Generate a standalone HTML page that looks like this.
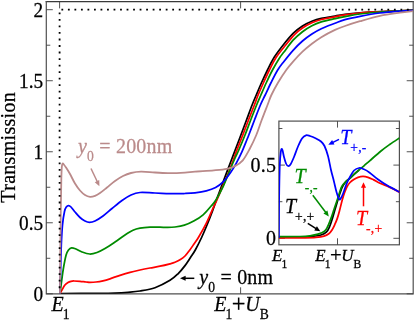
<!DOCTYPE html>
<html><head><meta charset="utf-8"><title>Transmission</title>
<style>
html,body{margin:0;padding:0;background:#fff;}
body{width:415px;height:320px;overflow:hidden;font-family:"Liberation Serif",serif;color:#000;}
svg{display:block;will-change:transform;filter:blur(0.35px);}
</style></head><body>
<svg width="415" height="320" viewBox="0 0 415 320">
<rect x="0" y="0" width="415" height="320" fill="#fff"/>
<path d="M46.30 1.60 H413.20" fill="none" stroke="#3a3a3a" stroke-width="1.3" stroke-linecap="square"/>
<path d="M46.30 1.60 V293.80 M413.20 1.60 V293.80 M46.30 293.80 H413.20" fill="none" stroke="#505050" stroke-width="1.2" stroke-linecap="square"/>
<g fill="none" stroke="#404040" stroke-width="0.9">
<path d="M46.3 293.80 h6.5 M413.2 293.80 h-6.5"/>
<path d="M46.3 258.29 h4.0 M413.2 258.29 h-4.0"/>
<path d="M46.3 222.78 h6.5 M413.2 222.78 h-6.5"/>
<path d="M46.3 187.26 h4.0 M413.2 187.26 h-4.0"/>
<path d="M46.3 151.75 h6.5 M413.2 151.75 h-6.5"/>
<path d="M46.3 116.24 h4.0 M413.2 116.24 h-4.0"/>
<path d="M46.3 80.72 h6.5 M413.2 80.72 h-6.5"/>
<path d="M46.3 45.21 h4.0 M413.2 45.21 h-4.0"/>
<path d="M46.3 9.70 h6.5 M413.2 9.70 h-6.5"/>
<path d="M59.60 293.8 v-6.5 M59.60 1.6 v6.8"/>
<path d="M240.60 293.8 v-6.5 M240.60 1.6 v6.8"/>
</g>
<defs><clipPath id="cm"><rect x="46.3" y="1.6" width="366.9" height="292.2"/></clipPath><clipPath id="ci"><rect x="278.9" y="121.1" width="120.5" height="123.7"/></clipPath></defs>
<g fill="none" stroke-width="1.75" stroke-linejoin="round" clip-path="url(#cm)">
<path d="M60.00 293.50 C66.67 293.48 90.83 293.47 100.00 293.40 C109.17 293.33 110.33 293.28 115.00 293.10 C119.67 292.92 123.83 292.65 128.00 292.30 C132.17 291.95 135.50 291.77 140.00 291.00 C144.50 290.23 150.00 289.48 155.00 287.70 C160.00 285.92 166.17 282.62 170.00 280.30 C173.83 277.98 175.50 276.25 178.00 273.80 C180.50 271.35 182.92 268.32 185.00 265.60 C187.08 262.88 188.78 260.10 190.50 257.50 C192.22 254.90 193.45 253.33 195.30 250.00 C197.15 246.67 199.65 241.67 201.60 237.50 C203.55 233.33 205.18 229.43 207.00 225.00 C208.82 220.57 210.93 215.07 212.50 210.90 C214.07 206.73 214.45 205.32 216.40 200.00 C218.35 194.68 221.70 185.67 224.20 179.00 C226.70 172.33 229.57 164.83 231.40 160.00 C233.23 155.17 233.62 154.17 235.20 150.00 C236.78 145.83 239.02 140.00 240.90 135.00 C242.78 130.00 244.63 125.00 246.50 120.00 C248.37 115.00 250.47 109.17 252.10 105.00 C253.72 100.83 254.67 98.75 256.25 95.00 C257.83 91.25 259.73 86.67 261.60 82.50 C263.48 78.33 265.40 74.20 267.50 70.00 C269.60 65.80 271.58 61.47 274.20 57.30 C276.82 53.13 280.05 48.98 283.20 45.00 C286.35 41.02 289.88 36.57 293.10 33.40 C296.32 30.23 299.37 28.02 302.50 26.00 C305.63 23.98 308.77 22.57 311.90 21.30 C315.03 20.03 317.45 19.27 321.30 18.40 C325.15 17.53 331.05 16.77 335.00 16.10 C338.95 15.43 340.83 14.93 345.00 14.40 C349.17 13.87 354.17 13.37 360.00 12.90 C365.83 12.43 373.33 11.95 380.00 11.60 C386.67 11.25 394.50 11.02 400.00 10.80 C405.50 10.58 410.83 10.38 413.00 10.30" stroke="#000000"/>
<path d="M60.00 293.50 C60.33 292.92 61.22 291.37 62.00 290.00 C62.78 288.63 63.70 286.55 64.70 285.30 C65.70 284.05 66.95 283.17 68.00 282.50 C69.05 281.83 70.00 281.55 71.00 281.30 C72.00 281.05 72.50 280.98 74.00 281.00 C75.50 281.02 78.00 281.23 80.00 281.40 C82.00 281.57 84.33 281.85 86.00 282.00 C87.67 282.15 88.33 282.30 90.00 282.30 C91.67 282.30 93.83 282.25 96.00 282.00 C98.17 281.75 100.67 281.33 103.00 280.80 C105.33 280.27 107.17 279.72 110.00 278.80 C112.83 277.88 116.67 276.38 120.00 275.30 C123.33 274.22 126.67 273.18 130.00 272.30 C133.33 271.42 136.67 270.72 140.00 270.00 C143.33 269.28 146.67 268.63 150.00 268.00 C153.33 267.37 156.67 266.90 160.00 266.20 C163.33 265.50 167.50 264.45 170.00 263.80 C172.50 263.15 173.33 262.97 175.00 262.30 C176.67 261.63 178.33 260.85 180.00 259.80 C181.67 258.75 183.37 257.63 185.00 256.00 C186.63 254.37 188.30 252.00 189.80 250.00 C191.30 248.00 192.57 246.08 194.00 244.00 C195.43 241.92 196.36 240.93 198.40 237.50 C200.44 234.07 203.90 228.08 206.25 223.40 C208.60 218.72 210.72 213.30 212.50 209.40 C214.28 205.50 215.57 202.98 216.90 200.00 C218.23 197.02 218.68 195.77 220.50 191.50 C222.32 187.23 225.63 179.75 227.80 174.40 C229.97 169.05 231.98 163.47 233.50 159.40 C235.02 155.33 235.35 154.07 236.90 150.00 C238.45 145.93 240.87 140.00 242.80 135.00 C244.73 130.00 246.57 125.00 248.50 120.00 C250.43 115.00 252.80 109.17 254.40 105.00 C256.00 100.83 256.57 98.75 258.10 95.00 C259.63 91.25 261.72 86.67 263.60 82.50 C265.48 78.33 267.30 74.20 269.40 70.00 C271.50 65.80 273.55 61.38 276.20 57.30 C278.85 53.22 282.17 49.35 285.30 45.50 C288.43 41.65 292.13 37.12 295.00 34.20 C297.87 31.28 299.68 29.90 302.50 28.00 C305.32 26.10 308.77 24.22 311.90 22.80 C315.03 21.38 317.45 20.50 321.30 19.50 C325.15 18.50 331.05 17.57 335.00 16.80 C338.95 16.03 340.83 15.53 345.00 14.90 C349.17 14.27 354.17 13.52 360.00 13.00 C365.83 12.48 373.33 12.15 380.00 11.80 C386.67 11.45 394.50 11.15 400.00 10.90 C405.50 10.65 410.83 10.40 413.00 10.30" stroke="#ff0000"/>
<path d="M60.00 293.50 C60.25 291.58 60.95 286.08 61.50 282.00 C62.05 277.92 62.53 273.50 63.30 269.00 C64.07 264.50 65.23 258.17 66.10 255.00 C66.97 251.83 67.58 251.20 68.50 250.00 C69.42 248.80 70.35 247.97 71.60 247.80 C72.85 247.63 74.27 248.30 76.00 249.00 C77.73 249.70 79.71 251.17 82.00 252.00 C84.29 252.83 87.25 253.92 89.75 254.00 C92.25 254.08 94.46 253.42 97.00 252.50 C99.54 251.58 102.00 250.25 105.00 248.50 C108.00 246.75 111.67 244.25 115.00 242.00 C118.33 239.75 122.00 236.95 125.00 235.00 C128.00 233.05 130.50 231.43 133.00 230.30 C135.50 229.17 137.17 228.72 140.00 228.20 C142.83 227.68 146.67 227.37 150.00 227.20 C153.33 227.03 157.17 227.17 160.00 227.20 C162.83 227.23 164.50 227.43 167.00 227.40 C169.50 227.37 172.10 227.37 175.00 227.00 C177.90 226.63 181.28 226.18 184.40 225.20 C187.53 224.22 190.63 222.83 193.75 221.10 C196.87 219.37 200.24 217.28 203.10 214.80 C205.96 212.33 208.77 208.72 210.90 206.25 C213.03 203.78 213.87 203.28 215.90 200.00 C217.93 196.72 220.80 191.50 223.10 186.60 C225.40 181.70 227.67 175.45 229.70 170.60 C231.73 165.75 233.78 160.93 235.30 157.50 C236.82 154.07 237.18 153.75 238.80 150.00 C240.42 146.25 243.02 140.00 245.00 135.00 C246.98 130.00 248.77 125.00 250.70 120.00 C252.63 115.00 254.90 109.17 256.60 105.00 C258.30 100.83 259.27 98.75 260.90 95.00 C262.53 91.25 264.47 86.67 266.40 82.50 C268.33 78.33 270.27 74.17 272.50 70.00 C274.73 65.83 277.93 60.45 279.80 57.50 C281.68 54.55 281.53 55.18 283.75 52.30 C285.97 49.42 289.98 43.63 293.10 40.20 C296.23 36.77 299.37 34.12 302.50 31.70 C305.63 29.28 308.77 27.33 311.90 25.70 C315.03 24.07 317.45 23.07 321.30 21.90 C325.15 20.73 331.05 19.58 335.00 18.70 C338.95 17.82 340.83 17.38 345.00 16.60 C349.17 15.82 354.17 14.77 360.00 14.00 C365.83 13.23 373.33 12.52 380.00 12.00 C386.67 11.48 394.50 11.18 400.00 10.90 C405.50 10.62 410.83 10.40 413.00 10.30" stroke="#008b00"/>
<path d="M60.00 293.50 C60.10 289.58 60.38 278.08 60.60 270.00 C60.82 261.92 60.98 252.50 61.30 245.00 C61.62 237.50 61.97 230.58 62.50 225.00 C63.03 219.42 63.83 214.53 64.50 211.50 C65.17 208.47 65.83 207.78 66.50 206.80 C67.17 205.82 67.75 205.57 68.50 205.60 C69.25 205.63 69.92 205.93 71.00 207.00 C72.08 208.07 73.50 210.25 75.00 212.00 C76.50 213.75 78.33 216.00 80.00 217.50 C81.67 219.00 83.42 220.20 85.00 221.00 C86.58 221.80 87.83 222.30 89.50 222.30 C91.17 222.30 92.75 222.05 95.00 221.00 C97.25 219.95 100.17 218.08 103.00 216.00 C105.83 213.92 108.83 211.08 112.00 208.50 C115.17 205.92 118.83 202.75 122.00 200.50 C125.17 198.25 128.00 196.33 131.00 195.00 C134.00 193.67 136.00 192.83 140.00 192.50 C144.00 192.17 149.17 192.80 155.00 193.00 C160.83 193.20 170.00 193.62 175.00 193.70 C180.00 193.78 181.67 193.65 185.00 193.50 C188.33 193.35 191.45 193.23 195.00 192.80 C198.55 192.37 202.87 191.78 206.30 190.90 C209.73 190.02 212.80 189.00 215.60 187.50 C218.40 186.00 220.60 184.40 223.10 181.90 C225.60 179.40 228.40 175.63 230.60 172.50 C232.80 169.37 234.42 166.53 236.30 163.10 C238.18 159.67 240.15 155.75 241.90 151.90 C243.65 148.05 245.65 142.82 246.80 140.00 C247.95 137.18 247.52 138.33 248.80 135.00 C250.08 131.67 252.57 125.00 254.50 120.00 C256.43 115.00 258.62 109.17 260.40 105.00 C262.18 100.83 263.42 98.75 265.20 95.00 C266.98 91.25 269.02 86.67 271.10 82.50 C273.18 78.33 275.59 73.47 277.70 70.00 C279.81 66.53 281.18 64.98 283.75 61.70 C286.32 58.42 289.98 53.75 293.10 50.30 C296.23 46.85 299.37 43.72 302.50 41.00 C305.63 38.28 308.77 36.05 311.90 34.00 C315.03 31.95 317.45 30.48 321.30 28.70 C325.15 26.92 331.05 24.82 335.00 23.30 C338.95 21.78 340.83 20.77 345.00 19.60 C349.17 18.43 354.17 17.40 360.00 16.30 C365.83 15.20 373.33 13.87 380.00 13.00 C386.67 12.13 394.50 11.53 400.00 11.10 C405.50 10.67 410.83 10.52 413.00 10.40" stroke="#0000ff"/>
<path d="M60.00 293.50 C60.05 286.25 60.17 263.92 60.30 250.00 C60.43 236.08 60.63 221.67 60.80 210.00 C60.97 198.33 61.13 187.17 61.30 180.00 C61.47 172.83 61.58 169.75 61.80 167.00 C62.02 164.25 62.27 163.92 62.60 163.50 C62.93 163.08 63.23 163.83 63.80 164.50 C64.37 165.17 64.97 165.92 66.00 167.50 C67.03 169.08 68.50 171.33 70.00 174.00 C71.50 176.67 73.33 180.75 75.00 183.50 C76.67 186.25 78.33 188.58 80.00 190.50 C81.67 192.42 83.33 193.95 85.00 195.00 C86.67 196.05 88.33 196.67 90.00 196.80 C91.67 196.93 93.33 196.43 95.00 195.80 C96.67 195.17 98.00 194.38 100.00 193.00 C102.00 191.62 104.50 189.50 107.00 187.50 C109.50 185.50 112.33 182.92 115.00 181.00 C117.67 179.08 120.33 177.33 123.00 176.00 C125.67 174.67 128.00 173.72 131.00 173.00 C134.00 172.28 137.00 171.78 141.00 171.70 C145.00 171.62 150.17 172.25 155.00 172.50 C159.83 172.75 165.00 173.18 170.00 173.20 C175.00 173.22 180.83 172.87 185.00 172.60 C189.17 172.33 190.20 171.98 195.00 171.60 C199.80 171.22 208.48 170.77 213.80 170.30 C219.12 169.83 223.32 169.53 226.90 168.80 C230.48 168.07 232.65 167.32 235.30 165.90 C237.95 164.48 240.45 163.03 242.80 160.30 C245.15 157.57 247.15 153.72 249.40 149.50 C251.65 145.28 254.25 139.92 256.30 135.00 C258.35 130.08 259.83 125.00 261.70 120.00 C263.57 115.00 265.88 109.17 267.50 105.00 C269.12 100.83 269.63 98.75 271.40 95.00 C273.17 91.25 275.62 86.67 278.10 82.50 C280.58 78.33 283.75 73.48 286.25 70.00 C288.75 66.52 290.39 64.65 293.10 61.60 C295.81 58.55 299.37 54.67 302.50 51.70 C305.63 48.73 308.77 46.22 311.90 43.80 C315.03 41.38 317.45 39.52 321.30 37.20 C325.15 34.88 331.05 31.77 335.00 29.90 C338.95 28.03 340.83 27.45 345.00 26.00 C349.17 24.55 354.17 22.90 360.00 21.20 C365.83 19.50 373.33 17.22 380.00 15.80 C386.67 14.38 394.50 13.47 400.00 12.70 C405.50 11.93 410.83 11.45 413.00 11.20" stroke="#ba8a8a" stroke-width="1.80"/>
</g>
<g fill="none" stroke="#000" stroke-width="1.8" stroke-dasharray="1.8 4.72">
<path d="M59.6 12.5 V292"/>
<path d="M61.4 9.7 H412"/>
</g>
<rect x="278.9" y="121.1" width="120.5" height="123.7" fill="#fff" stroke="#505050" stroke-width="1.2"/>
<g fill="none" stroke="#404040" stroke-width="0.9">
<path d="M278.9 238.30 h6.0 M399.4 238.30 h-6.0"/>
<path d="M278.9 201.70 h3.5 M399.4 201.70 h-3.5"/>
<path d="M278.9 165.10 h6.0 M399.4 165.10 h-6.0"/>
<path d="M278.9 128.50 h3.5 M399.4 128.50 h-3.5"/>
<path d="M337.5 244.8 v-6.5 M337.5 121.1 v6.5"/>
</g>
<g fill="none" stroke-width="1.75" stroke-linejoin="round" clip-path="url(#ci)">
<path d="M278.50 237.20 C282.08 237.18 294.42 237.22 300.00 237.10 C305.58 236.98 308.50 236.85 312.00 236.50 C315.50 236.15 318.62 235.72 321.00 235.00 C323.38 234.28 324.92 233.48 326.30 232.20 C327.68 230.92 328.28 229.60 329.30 227.30 C330.32 225.00 331.45 221.37 332.40 218.40 C333.35 215.43 334.08 212.60 335.00 209.50 C335.92 206.40 337.03 202.63 337.90 199.80 C338.77 196.97 339.45 194.67 340.20 192.50 C340.95 190.33 341.48 188.55 342.40 186.80 C343.32 185.05 344.47 183.40 345.70 182.00 C346.93 180.60 348.42 179.67 349.80 178.40 C351.18 177.13 352.47 175.78 354.00 174.40 C355.53 173.02 358.17 170.82 359.00 170.10" stroke="#000000"/>
<path d="M278.50 237.90 C282.92 237.88 298.75 237.88 305.00 237.80 C311.25 237.72 312.83 237.67 316.00 237.40 C319.17 237.13 321.87 236.80 324.00 236.20 C326.13 235.60 327.47 234.83 328.80 233.80 C330.13 232.77 331.00 231.55 332.00 230.00 C333.00 228.45 333.92 226.43 334.80 224.50 C335.68 222.57 336.48 220.82 337.30 218.40 C338.12 215.98 338.87 213.10 339.70 210.00 C340.53 206.90 341.48 202.72 342.30 199.80 C343.12 196.88 343.80 194.72 344.60 192.50 C345.40 190.28 346.20 188.17 347.10 186.50 C348.00 184.83 348.88 183.67 350.00 182.50 C351.12 181.33 352.47 180.37 353.80 179.50 C355.13 178.63 356.47 177.82 358.00 177.30 C359.53 176.78 361.33 176.40 363.00 176.40 C364.67 176.40 366.22 176.72 368.00 177.30 C369.78 177.88 371.70 178.92 373.70 179.90 C375.70 180.88 377.72 182.17 380.00 183.20 C382.28 184.23 384.10 184.58 387.40 186.10 C390.70 187.62 397.73 191.27 399.80 192.30" stroke="#ff0000"/>
<path d="M278.50 236.60 C282.08 236.58 294.75 236.63 300.00 236.50 C305.25 236.37 307.00 236.18 310.00 235.80 C313.00 235.42 315.58 234.97 318.00 234.20 C320.42 233.43 322.88 232.48 324.50 231.20 C326.12 229.92 326.62 228.63 327.70 226.50 C328.78 224.37 329.95 221.23 331.00 218.40 C332.05 215.57 332.95 212.60 334.00 209.50 C335.05 206.40 336.37 202.63 337.30 199.80 C338.23 196.97 338.85 194.72 339.60 192.50 C340.35 190.28 340.82 188.28 341.80 186.50 C342.78 184.72 344.17 183.17 345.50 181.80 C346.83 180.43 348.38 179.55 349.80 178.30 C351.22 177.05 352.47 175.68 354.00 174.30 C355.53 172.92 357.33 171.42 359.00 170.00 C360.67 168.58 362.22 167.33 364.00 165.80 C365.78 164.27 366.87 163.27 369.70 160.80 C372.53 158.33 377.62 153.75 381.00 151.00 C384.38 148.25 386.93 146.47 390.00 144.30 C393.07 142.13 397.83 139.05 399.40 138.00" stroke="#008b00"/>
<path d="M278.90 238.00 C278.93 231.67 278.95 212.17 279.10 200.00 C279.25 187.83 279.50 173.17 279.80 165.00 C280.10 156.83 280.58 153.70 280.90 151.00 C281.22 148.30 281.42 148.88 281.70 148.80 C281.98 148.72 282.22 149.13 282.60 150.50 C282.98 151.87 283.43 154.83 284.00 157.00 C284.57 159.17 285.32 162.00 286.00 163.50 C286.68 165.00 287.35 165.83 288.10 166.00 C288.85 166.17 289.52 166.00 290.50 164.50 C291.48 163.00 292.75 160.00 294.00 157.00 C295.25 154.00 296.67 149.58 298.00 146.50 C299.33 143.42 300.67 140.37 302.00 138.50 C303.33 136.63 304.67 135.72 306.00 135.30 C307.33 134.88 308.33 135.47 310.00 136.00 C311.67 136.53 314.17 137.58 316.00 138.50 C317.83 139.42 319.58 140.25 321.00 141.50 C322.42 142.75 323.33 143.58 324.50 146.00 C325.67 148.42 326.92 152.00 328.00 156.00 C329.08 160.00 330.02 165.80 331.00 170.00 C331.98 174.20 332.98 177.53 333.90 181.20 C334.82 184.87 335.62 188.98 336.50 192.00 C337.38 195.02 338.45 198.30 339.20 199.30 C339.95 200.30 340.33 199.02 341.00 198.00 C341.67 196.98 342.28 195.53 343.20 193.20 C344.12 190.87 345.40 186.67 346.50 184.00 C347.60 181.33 348.55 179.45 349.80 177.20 C351.05 174.95 352.47 172.03 354.00 170.50 C355.53 168.97 357.33 168.20 359.00 168.00 C360.67 167.80 362.22 168.52 364.00 169.30 C365.78 170.08 367.40 171.03 369.70 172.70 C372.00 174.37 374.85 177.15 377.80 179.30 C380.75 181.45 383.73 183.45 387.40 185.60 C391.07 187.75 397.73 191.10 399.80 192.20" stroke="#0000ff"/>
</g>
<path d="M91.00 168.50 L97.43 182.04" stroke="#ba8a8a" stroke-width="1.5" fill="none"/><path d="M99.40 186.20 L94.74 182.21 L99.26 180.07 Z" fill="#ba8a8a"/>
<path d="M194.30 278.30 L184.60 278.30" stroke="#000" stroke-width="1.5" fill="none"/><path d="M180.00 278.30 L185.60 275.80 L185.60 280.80 Z" fill="#000"/>
<path d="M339.00 139.30 L332.39 142.70" stroke="#0000ff" stroke-width="1.5" fill="none"/><path d="M328.30 144.80 L332.14 140.02 L334.42 144.46 Z" fill="#0000ff"/>
<path d="M312.80 195.20 L326.03 212.73" stroke="#008b00" stroke-width="1.5" fill="none"/><path d="M328.80 216.40 L323.43 213.44 L327.42 210.42 Z" fill="#008b00"/>
<path d="M307.80 223.40 L316.41 228.84" stroke="#000" stroke-width="1.5" fill="none"/><path d="M320.30 231.30 L314.23 230.42 L316.90 226.19 Z" fill="#000"/>
<path d="M363.50 206.30 L363.50 186.80" stroke="#ff0000" stroke-width="1.5" fill="none"/><path d="M363.50 182.20 L366.00 187.80 L361.00 187.80 Z" fill="#ff0000"/>
<g font-family="Liberation Serif, serif" font-size="20" stroke-width="0.25" paint-order="stroke">
<text transform="translate(43.30 300.60) scale(1 1.055)" fill="#000" stroke="#000" text-anchor="end" letter-spacing="0.10"><tspan font-size="19.3" dy="0.0">0</tspan></text>
<text transform="translate(43.30 229.58) scale(1 1.055)" fill="#000" stroke="#000" text-anchor="end" letter-spacing="0.10"><tspan font-size="19.3" dy="0.0">0.5</tspan></text>
<text transform="translate(43.30 158.55) scale(1 1.055)" fill="#000" stroke="#000" text-anchor="end" letter-spacing="0.10"><tspan font-size="19.3" dy="0.0">1</tspan></text>
<text transform="translate(43.30 87.52) scale(1 1.055)" fill="#000" stroke="#000" text-anchor="end" letter-spacing="0.10"><tspan font-size="19.3" dy="0.0">1.5</tspan></text>
<text transform="translate(43.30 16.50) scale(1 1.055)" fill="#000" stroke="#000" text-anchor="end" letter-spacing="0.10"><tspan font-size="19.3" dy="0.0">2</tspan></text>
<text transform="translate(14.90 147.30) scale(1.025 1) rotate(-90)" fill="#000" stroke="#000" text-anchor="middle" letter-spacing="0.30"><tspan font-size="20.0" dy="0.0">Transmission</tspan></text>
<text transform="translate(51.50 311.00) scale(1 1.025)" fill="#000" stroke="#000" text-anchor="start" letter-spacing="0.20"><tspan font-style="italic" font-size="20.0" dy="0.0">E</tspan><tspan font-size="13.6" dy="8.1" dx="-1.20">1</tspan></text>
<text transform="translate(214.30 311.00) scale(1 1.025)" fill="#000" stroke="#000" text-anchor="start" letter-spacing="0.20"><tspan font-style="italic" font-size="20.0" dy="0.0">E</tspan><tspan font-size="13.6" dy="8.1" dx="-1.20">1</tspan><tspan font-size="24.4" dy="-7.1" dx="-0.70">+</tspan><tspan font-style="italic" font-size="20.0" dy="-1.0" dx="-0.50">U</tspan><tspan font-size="13.6" dy="8.1" dx="-0.30">B</tspan></text>
<text transform="translate(78.00 152.90) scale(1 1.025)" fill="#ba8a8a" stroke="#ba8a8a" text-anchor="start" letter-spacing="0.20"><tspan font-style="italic" font-size="20.0" dy="0.0">y</tspan><tspan font-size="13.6" dy="8.1">0</tspan><tspan font-size="20.0" dy="-8.1"> = 200nm</tspan></text>
<text transform="translate(199.20 284.00) scale(1 1.025)" fill="#000" stroke="#000" text-anchor="start" letter-spacing="0.20"><tspan font-style="italic" font-size="20.0" dy="0.0">y</tspan><tspan font-size="13.6" dy="8.1">0</tspan><tspan font-size="20.0" dy="-8.1"> = 0nm</tspan></text>
<text transform="translate(276.20 172.10) scale(1 1.025)" fill="#000" stroke="#000" text-anchor="end" letter-spacing="0.20"><tspan font-size="20.0" dy="0.0">0.5</tspan></text>
<text transform="translate(276.20 245.30) scale(1 1.025)" fill="#000" stroke="#000" text-anchor="end" letter-spacing="0.20"><tspan font-size="20.0" dy="0.0">0</tspan></text>
<text transform="translate(272.00 260.90) scale(1 1.025)" fill="#000" stroke="#000" text-anchor="start" letter-spacing="0.20"><tspan font-style="italic" font-size="17.0" dy="0.0">E</tspan><tspan font-size="11.6" dy="6.9" dx="-1.20">1</tspan></text>
<text transform="translate(315.30 260.90) scale(1 1.025)" fill="#000" stroke="#000" text-anchor="start" letter-spacing="0.20"><tspan font-style="italic" font-size="17.0" dy="0.0">E</tspan><tspan font-size="11.6" dy="6.9" dx="-1.20">1</tspan><tspan font-size="20.7" dy="-5.9" dx="-0.70">+</tspan><tspan font-style="italic" font-size="17.0" dy="-1.0" dx="-0.50">U</tspan><tspan font-size="11.6" dy="6.9" dx="-0.30">B</tspan></text>
<text transform="translate(340.20 143.80) scale(1 1.025)" fill="#0000ff" stroke="#0000ff" text-anchor="start" letter-spacing="0.20"><tspan font-style="italic" font-size="20.0" dy="0.0">T</tspan><tspan font-size="13.6" dy="8.1" dx="-1.20">+,-</tspan></text>
<text transform="translate(294.60 183.40) scale(1 1.025)" fill="#008b00" stroke="#008b00" text-anchor="start" letter-spacing="0.20"><tspan font-style="italic" font-size="20.0" dy="0.0">T</tspan><tspan font-size="13.6" dy="8.1" dx="-1.20">-,-</tspan></text>
<text transform="translate(285.00 212.50) scale(1 1.025)" fill="#000" stroke="#000" text-anchor="start" letter-spacing="0.20"><tspan font-style="italic" font-size="20.0" dy="0.0">T</tspan><tspan font-size="13.6" dy="8.1" dx="-1.20">+,+</tspan></text>
<text transform="translate(356.00 224.50) scale(1 1.025)" fill="#ff0000" stroke="#ff0000" text-anchor="start" letter-spacing="0.20"><tspan font-style="italic" font-size="20.0" dy="0.0">T</tspan><tspan font-size="13.6" dy="8.1" dx="-1.20">-,+</tspan></text>
</g>
</svg>
</body></html>
